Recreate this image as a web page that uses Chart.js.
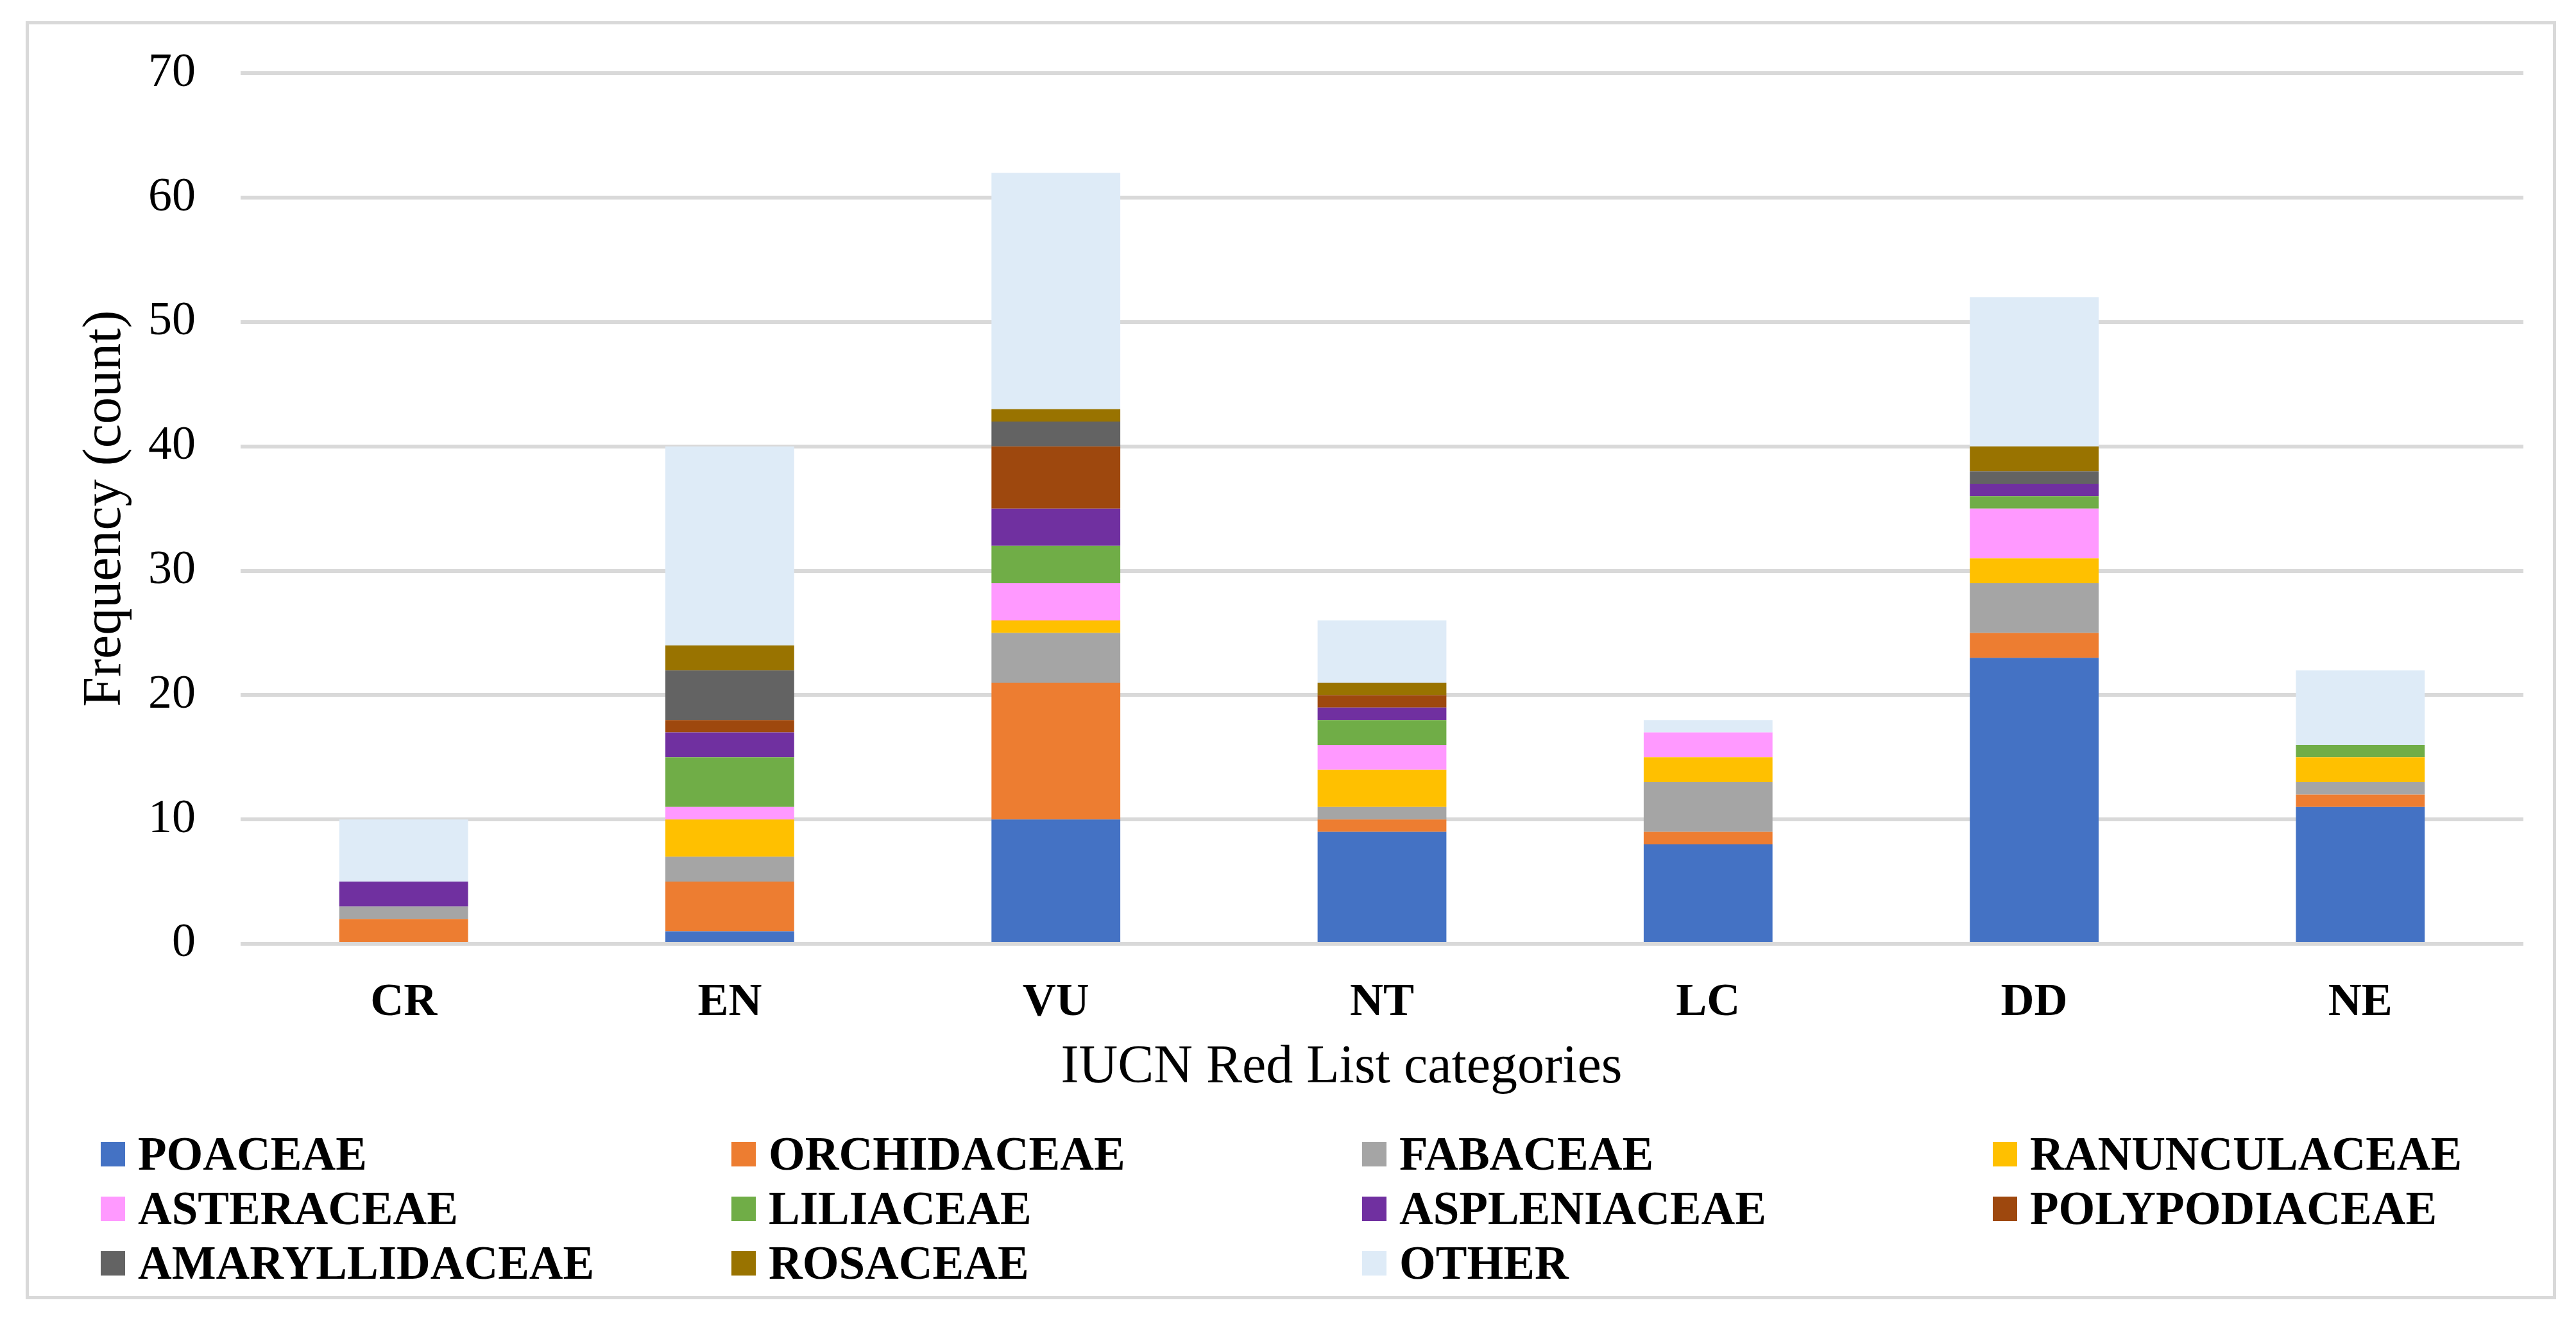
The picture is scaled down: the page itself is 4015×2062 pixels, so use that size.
<!DOCTYPE html>
<html>
<head>
<meta charset="utf-8">
<script src="https://cdn.jsdelivr.net/npm/chart.js@4/dist/chart.umd.min.js"></script>
<style>
html,body{margin:0;padding:0;background:#fff;}
#wrap{position:relative;width:4015px;height:2062px;overflow:hidden;background:#fff;}
#frame{position:absolute;left:40px;top:33px;width:3944px;height:1992px;border:5px solid #D9D9D9;box-sizing:border-box;}
#c{position:absolute;left:0;top:0;}
#legend{position:absolute;left:157px;top:1756px;display:grid;grid-template-columns:repeat(4,983px);grid-auto-rows:85px;}
.lg{display:flex;align-items:center;height:85px;font:bold 73px 'Liberation Serif','Times New Roman',serif;line-height:85px;color:#000;white-space:nowrap;}
.lg i{display:inline-block;width:38px;height:38px;margin-right:20px;flex:none;}
</style>
</head>
<body>
<div id="wrap">
  <div id="frame"></div>
  <canvas id="c" width="4015" height="2062"></canvas>
  <div id="legend"></div>
</div>
<script>
// ---- Data ----
const categories = ['CR', 'EN', 'VU', 'NT', 'LC', 'DD', 'NE'];
const familyNames = ['POACEAE', 'ORCHIDACEAE', 'FABACEAE', 'RANUNCULACEAE', 'ASTERACEAE', 'LILIACEAE', 'ASPLENIACEAE', 'POLYPODIACEAE', 'AMARYLLIDACEAE', 'ROSACEAE', 'OTHER'];
const familyColors = ['#4472C4', '#ED7D31', '#A5A5A5', '#FFC000', '#FF99FF', '#70AD47', '#7030A0', '#9E480E', '#636363', '#997300', '#DEEBF7'];

const poaceae        = [0, 1, 10, 9, 8, 23, 11];
const orchidaceae    = [2, 4, 11, 1, 1, 2, 1];
const fabaceae       = [1, 2, 4, 1, 4, 4, 1];
const ranunculaceae  = [0, 3, 1, 3, 2, 2, 2];
const asteraceae     = [0, 1, 3, 2, 2, 4, 0];
const liliaceae      = [0, 4, 3, 2, 0, 1, 1];
const aspleniaceae   = [2, 2, 3, 1, 0, 1, 0];
const polypodiaceae  = [0, 1, 5, 1, 0, 0, 0];
const amaryllidaceae = [0, 4, 2, 0, 0, 1, 0];
const rosaceae       = [0, 2, 1, 1, 0, 2, 0];
const other          = [5, 16, 19, 5, 1, 12, 6];

const seriesValues = [poaceae, orchidaceae, fabaceae, ranunculaceae, asteraceae, liliaceae, aspleniaceae, polypodiaceae, amaryllidaceae, rosaceae, other];

const yMin = 0, yMax = 70, yStep = 10;
const xTitle = 'IUCN Red List categories';
const yTitle = 'Frequency (count)';

// ---- Chart ----
const serif = "'Liberation Serif','Times New Roman',serif";
Chart.defaults.font.family = serif;
Chart.defaults.color = '#000';

new Chart(document.getElementById('c'), {
  type: 'bar',
  data: {
    labels: categories,
    datasets: familyNames.map((name, i) => ({
      label: name,
      data: seriesValues[i],
      backgroundColor: familyColors[i],
      borderWidth: 0,
      categoryPercentage: 1,
      barPercentage: 0.395
    }))
  },
  options: {
    responsive: false,
    animation: false,
    devicePixelRatio: 1,
    layout: { padding: { left: 115, top: 112, right: 82, bottom: 331 } },
    plugins: { legend: { display: false }, tooltip: { enabled: false } },
    scales: {
      x: {
        stacked: true,
        grid: { display: false, drawTicks: false },
        border: { display: false },
        ticks: { font: { size: 72, weight: 'bold' }, padding: 49, color: '#000' },
        title: { display: true, text: xTitle + '      ', font: { size: 84 }, padding: { top: 0, bottom: 16 }, color: '#000' },
        afterFit: s => { s.height = 260; }
      },
      y: {
        stacked: true,
        min: yMin,
        max: yMax,
        ticks: { stepSize: yStep, font: { size: 74 }, padding: 70, color: '#000' },
        grid: { color: '#D9D9D9', lineWidth: 6, drawTicks: false },
        border: { display: false },
        title: { display: true, text: yTitle, font: { size: 84 }, padding: { top: 0, bottom: 0 }, color: '#000' },
        afterFit: s => { s.width = 260; }
      }
    }
  }
});

// ---- Legend (grid like the original) ----
const lg = document.getElementById('legend');
familyNames.forEach((name, i) => {
  const d = document.createElement('div');
  d.className = 'lg';
  const m = document.createElement('i');
  m.style.background = familyColors[i];
  d.appendChild(m);
  d.appendChild(document.createTextNode(name));
  lg.appendChild(d);
});
</script>
</body>
</html>
